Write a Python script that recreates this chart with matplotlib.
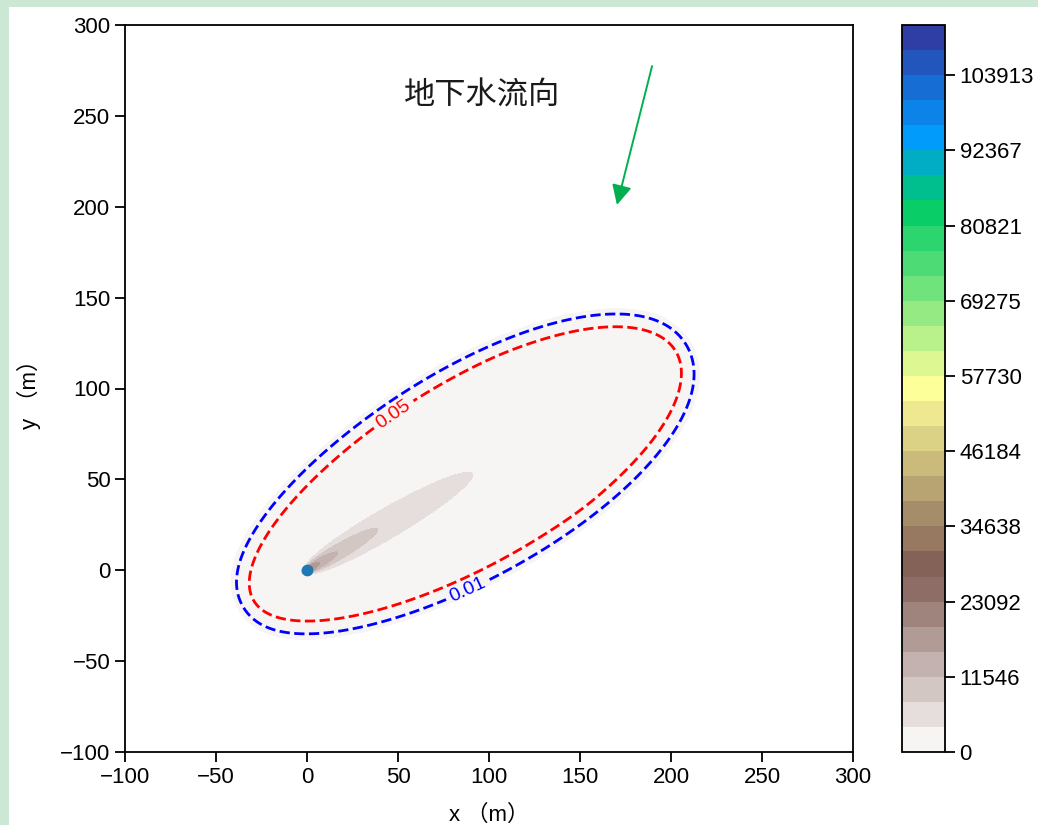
import numpy as np
import matplotlib
matplotlib.use("Agg")
import matplotlib.pyplot as plt
from matplotlib.patches import Rectangle

# ---------------- chart content ----------------
x_ticks = [-100, -50, 0, 50, 100, 150, 200, 250, 300]
y_ticks = [-100, -50, 0, 50, 100, 150, 200, 250, 300]
line_levels = [0.01, 0.05]
line_colors = ["blue", "red"]
line_label_pos = [(88.5, -10.9), (46.7, 87.1)]
source_xy = (0.0, 0.0)
cbar_max = 111610.4
n_bands = 29
flow_text = "地下水流向"
flow_text_xy = (53.0, 261.0)
arrow_start = (189.6, 277.4)
arrow_end = (170.3, 201.0)

# ---------------- plume model parameters ----------------
plume_angle_deg = 30.6          # direction of the outer plume axis
outer_center_along = 101.0      # centre of the 0.05 envelope, along axis (m)
outer_center_across = 0.5
outer_semi_major = 134.7        # 0.05 envelope semi axes (m)
outer_semi_minor = 50.0
outer_edge_scale = 4.2          # e-folding distance at plume edge (m)
outer_plateau = 100.0
outer_edge_value = 0.05
egg = 0.06

core_angle_deg = 30.3
core_amp = 26770.0
core_power = 0.2314
core_decay_len = 118.7
core_offset = 0.05
core_spread = 1.0
core_width0 = 1.0
core_back = 1.5
core_cut = 150.0
core_cut_w = 6.0
core_edge_gap = 10.0
core_edge_w = 2.0
fill_floor = 0.005

# ---------------- field ----------------
gx = np.linspace(-100, 300, 801)
gy = np.linspace(-100, 300, 801)
X, Y = np.meshgrid(gx, gy)

t = np.deg2rad(plume_angle_deg)
xi = X * np.cos(t) + Y * np.sin(t)
eta = -X * np.sin(t) + Y * np.cos(t)
Xp = xi - outer_center_along
Yp = eta - outer_center_across
a = outer_semi_major
b = outer_semi_minor * (1 + egg * Xp / a)
rho = np.sqrt((Xp / a) ** 2 + (Yp / b) ** 2)
den = np.sqrt((Xp / a ** 2) ** 2 + (Yp / b ** 2) ** 2)
den = np.maximum(den, 1e-12)
d = np.where(rho > 0.5, (rho - 1) * rho / den, -1e3)
K = outer_plateau / outer_edge_value - 1
G = outer_plateau / (1 + K * np.exp(np.clip(d / outer_edge_scale, -200, 200)))
inside = 1.0 / (1 + np.exp(np.clip((d + core_edge_gap) / core_edge_w, -200, 200)))

tc = np.deg2rad(core_angle_deg)
xc = X * np.cos(tc) + Y * np.sin(tc)
ec = -X * np.sin(tc) + Y * np.cos(tc)
xpos = np.maximum(xc, 0)
xneg = np.minimum(xc, 0)
Q = core_amp * (xpos + core_offset) ** (-core_power) * np.exp(-xpos / core_decay_len)
Q *= 1.0 / (1 + np.exp((xpos - core_cut) / core_cut_w))
sig2 = core_width0 ** 2 + core_spread * xpos
C = Q * np.exp(-ec ** 2 / (2 * sig2)) * np.exp(-xneg ** 2 / (2 * core_back ** 2)) * inside

Z = G + C
Z = np.minimum(Z, cbar_max * 0.9999)
Zm = np.ma.masked_less(Z, fill_floor)

levels = np.linspace(0, cbar_max, n_bands + 1)

# ---------------- figure ----------------
plt.rcParams["font.family"] = ["Liberation Sans", "Noto Sans CJK SC"]
plt.rcParams["axes.unicode_minus"] = True

W, H = 1038, 825
fig = plt.figure(figsize=(W / 100, H / 100), dpi=100)
fig.patch.set_facecolor("white")
green = "#cce8d4"
fig.patches.append(Rectangle((0, 0), 9 / W, 1, transform=fig.transFigure,
                             facecolor=green, edgecolor="none", zorder=-5))
fig.patches.append(Rectangle((0, 1 - 7 / H), 1, 7 / H, transform=fig.transFigure,
                             facecolor=green, edgecolor="none", zorder=-5))

ax = fig.add_axes([125 / W, (H - 752) / H, (853 - 125) / W, (752 - 25) / H])
cax = fig.add_axes([902 / W, (H - 752) / H, (945 - 902) / W, (752 - 25) / H])

cs = ax.contourf(X, Y, Zm, levels=levels, cmap="terrain_r")
for lev, col, pos in zip(line_levels, line_colors, line_label_pos):
    cl = ax.contour(X, Y, Z, levels=[lev], colors=col, linestyles="--", linewidths=2.0)
    ax.clabel(cl, fmt={lev: f"{lev:.2f}"}, manual=[pos], fontsize=14, inline=True)

ax.scatter([source_xy[0]], [source_xy[1]], s=55, color="#1f77b4", zorder=5)

ax.text(flow_text_xy[0], flow_text_xy[1], flow_text, fontsize=22.5,
        family=["Noto Sans CJK SC"], va="center", ha="left", color="#1a1a1a")
ax.annotate("", xy=arrow_end, xytext=arrow_start,
            arrowprops=dict(arrowstyle="-|>", color="#00b050", lw=1.4,
                            mutation_scale=30, shrinkA=0, shrinkB=0))

ax.set_xlim(-100, 300)
ax.set_ylim(-100, 300)
ax.set_xticks(x_ticks)
ax.set_yticks(y_ticks)
ax.tick_params(labelsize=16, length=7, width=1.3)
for s in ax.spines.values():
    s.set_linewidth(1.3)
ax.set_xlabel("x （m）", fontsize=16, labelpad=12)
ax.set_ylabel("y （m）", fontsize=16, labelpad=14)

cb = fig.colorbar(cs, cax=cax, ticks=levels[::3])
cb.set_ticklabels([f"{v:.0f}" for v in levels[::3]])
cb.ax.tick_params(labelsize=16, length=7, width=1.3)
cb.outline.set_linewidth(1.3)

fig.savefig("out.png", dpi=100)
